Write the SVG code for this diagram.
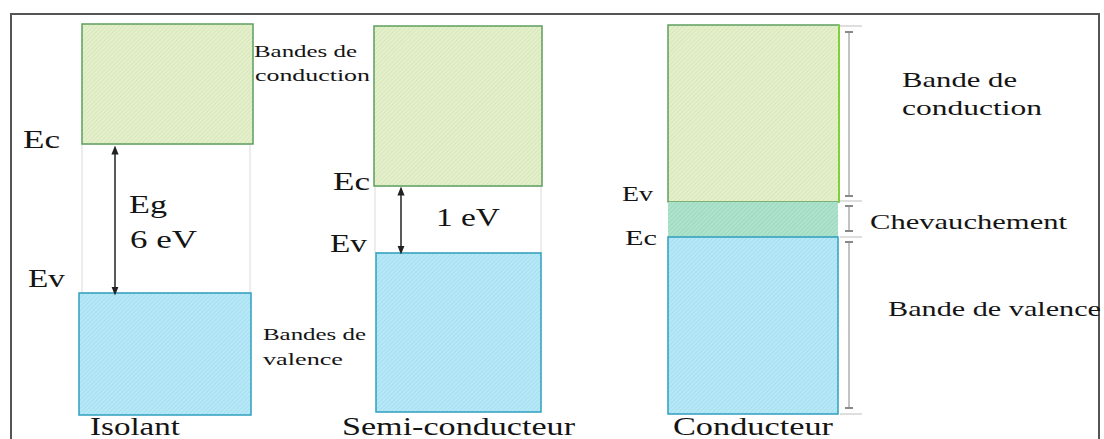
<svg xmlns="http://www.w3.org/2000/svg" width="1104" height="439" viewBox="0 0 1104 439">
<defs>
<pattern id="hg" width="3" height="3" patternUnits="userSpaceOnUse" patternTransform="rotate(45)">
<rect width="3" height="3" fill="#e4f0c9"/>
<line x1="0" y1="0" x2="0" y2="3" stroke="#cddcb4" stroke-width="1"/>
</pattern>
<pattern id="hb" width="3" height="3" patternUnits="userSpaceOnUse" patternTransform="rotate(45)">
<rect width="3" height="3" fill="#b6e9f8"/>
<line x1="0" y1="0" x2="0" y2="3" stroke="#9dd3e6" stroke-width="1"/>
</pattern>
<pattern id="ht" width="3" height="3" patternUnits="userSpaceOnUse" patternTransform="rotate(45)">
<rect width="3" height="3" fill="#aee3cc"/>
<line x1="0" y1="0" x2="0" y2="3" stroke="#8ccbb4" stroke-width="1"/>
</pattern>
<marker id="ah" viewBox="0 0 10 10" refX="5" refY="5" markerWidth="6" markerHeight="6" orient="auto-start-reverse">
<path d="M0,1 L10,5 L0,9 z" fill="#222"/>
</marker>
</defs>
<style>
text{font-family:"Liberation Serif","Times New Roman",serif;fill:#141414}
.cb{fill:url(#hg);stroke:#5d9e5d;stroke-width:1.5}
.vb{fill:url(#hb);stroke:#2f9fbf;stroke-width:1.5}
.gap{fill:none;stroke:#dcdcdc;stroke-width:1}
.arr{stroke:#222;stroke-width:1.5;marker-start:url(#ah);marker-end:url(#ah)}
.dim{stroke:#9a9a9a;stroke-width:1.2}
.tk{stroke:#bdbdbd;stroke-width:1}
.big{font-size:26px}
.sm{font-size:17px}
.mid{font-size:22px}
.lev{font-size:20px}
.bot{font-size:25px}
</style>
<rect width="1104" height="439" fill="#ffffff"/>
<path d="M11,439 V14 H1099 V439" fill="none" stroke="#555" stroke-width="2"/>

<g id="isolant">
<rect class="gap" x="82" y="144" width="168" height="149"/>
<rect id="iso-cond" class="cb" x="82" y="24" width="171" height="120"/>
<rect id="iso-val" class="vb" x="79" y="293" width="172" height="122"/>
<text class="big" x="23" y="148" textLength="37" lengthAdjust="spacingAndGlyphs">Ec</text>
<text class="big" x="28" y="287" textLength="37" lengthAdjust="spacingAndGlyphs">Ev</text>
<text class="big" x="129" y="213" textLength="38" lengthAdjust="spacingAndGlyphs">Eg</text>
<text class="big" x="130" y="248" textLength="67" lengthAdjust="spacingAndGlyphs">6 eV</text>
<text class="sm" x="254" y="57" textLength="103" lengthAdjust="spacingAndGlyphs">Bandes de</text>
<text class="sm" x="255" y="81" textLength="115" lengthAdjust="spacingAndGlyphs">conduction</text>
<text class="sm" x="263" y="340" textLength="103" lengthAdjust="spacingAndGlyphs">Bandes de</text>
<text class="sm" x="263" y="365" textLength="80" lengthAdjust="spacingAndGlyphs">valence</text>
<text class="bot" x="90" y="435" textLength="90" lengthAdjust="spacingAndGlyphs">Isolant</text>
</g>

<g id="semi">
<rect class="gap" x="375" y="186" width="166" height="67"/>
<rect id="semi-cond" class="cb" x="374" y="26" width="168" height="160"/>
<rect id="semi-val" class="vb" x="376" y="253" width="165" height="159"/>
<text class="big" x="333" y="190" textLength="37" lengthAdjust="spacingAndGlyphs">Ec</text>
<text class="big" x="330" y="252" textLength="37" lengthAdjust="spacingAndGlyphs">Ev</text>
<text class="big" x="436" y="226" textLength="64" lengthAdjust="spacingAndGlyphs">1 eV</text>
<text class="bot" x="342" y="435" textLength="233" lengthAdjust="spacingAndGlyphs">Semi-conducteur</text>
</g>

<g id="conducteur">
<rect id="cond-cond" class="cb" x="668" y="25" width="171" height="177"/>
<line x1="839" y1="25" x2="839" y2="202" stroke="#7fd13a" stroke-width="2"/>
<rect id="cond-over" x="668" y="202" width="170" height="35" fill="url(#ht)"/>
<rect id="cond-val" class="vb" x="668" y="237" width="170" height="177"/>
<text class="lev" x="622" y="201" textLength="31" lengthAdjust="spacingAndGlyphs">Ev</text>
<text class="lev" x="625" y="245" textLength="32" lengthAdjust="spacingAndGlyphs">Ec</text>
<text class="mid" x="902" y="87" textLength="115" lengthAdjust="spacingAndGlyphs">Bande de</text>
<text class="mid" x="902" y="115" textLength="140" lengthAdjust="spacingAndGlyphs">conduction</text>
<text class="mid" x="870" y="229" textLength="197" lengthAdjust="spacingAndGlyphs">Chevauchement</text>
<text class="mid" x="888" y="316" textLength="213" lengthAdjust="spacingAndGlyphs">Bande de valence</text>
<text class="bot" x="673" y="435" textLength="160" lengthAdjust="spacingAndGlyphs">Conducteur</text>
</g>

<g id="connectors">
<line class="arr" x1="115" y1="150" x2="115" y2="291"/>
<line class="arr" x1="401" y1="191" x2="401" y2="250"/>
<line class="dim" x1="849" y1="32" x2="849" y2="196"/>
<line class="dim" x1="849" y1="206" x2="849" y2="231"/>
<line class="dim" x1="849" y1="242" x2="849" y2="408"/>
<line class="tk" x1="840" y1="26" x2="862" y2="26"/>
<line class="tk" x1="840" y1="201" x2="862" y2="201"/>
<line class="tk" x1="840" y1="237" x2="862" y2="237"/>
<line class="tk" x1="840" y1="414" x2="862" y2="414"/>
<g stroke="#888" stroke-width="2">
<line x1="845" y1="32" x2="853" y2="32"/>
<line x1="845" y1="196" x2="853" y2="196"/>
<line x1="845" y1="206" x2="853" y2="206"/>
<line x1="845" y1="231" x2="853" y2="231"/>
<line x1="845" y1="242" x2="853" y2="242"/>
<line x1="845" y1="408" x2="853" y2="408"/>
</g>
</g>
</svg>
